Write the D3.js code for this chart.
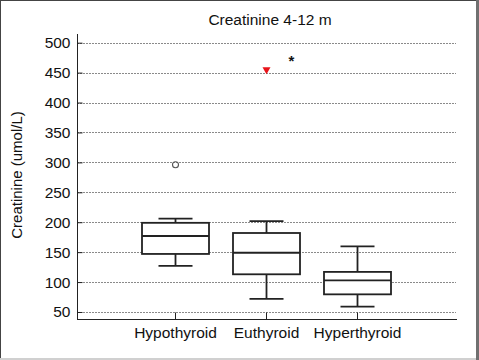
<!DOCTYPE html>
<html><head><meta charset="utf-8">
<script src="https://cdn.jsdelivr.net/npm/d3@7"></script>
<style>html,body{margin:0;padding:0;background:#fff;}svg{display:block;}</style>
</head><body>
<script>
const categories = ["Hypothyroid", "Euthyroid", "Hyperthyroid"];
const whiskerLow  = [127, 72, 59];
const q1          = [147, 113, 79.5];
const median      = [177, 149, 103];
const q3          = [199, 182, 117];
const whiskerHigh = [206, 202, 159.5];
const outliers = [
  {cat: "Hypothyroid", value: 296, type: "circle"},
  {cat: "Euthyroid", value: 453, type: "triangle"}
];
const extraMarks = [{catFrom: "Euthyroid", value: 473, label: "*"}];
const yTicks = [50, 100, 150, 200, 250, 300, 350, 400, 450, 500];
const title = "Creatinine 4-12 m";
const yTitle = "Creatinine (umol/L)";

(function(){
const W = 479, H = 360;
const svg = d3.select("body").append("svg").attr("width", W).attr("height", H);
const font = "Liberation Sans, Arial, sans-serif";

// frame
svg.append("rect").attr("x",0).attr("y",0).attr("width",W).attr("height",H).attr("fill","#fff");
svg.append("rect").attr("x",476).attr("y",0).attr("width",3).attr("height",H).attr("fill","#707070");
svg.append("rect").attr("x",0).attr("y",358).attr("width",476).attr("height",2).attr("fill","#d0d0d0");
svg.append("line").attr("x1",0.5).attr("x2",0.5).attr("y1",0).attr("y2",358).attr("stroke","#444");
svg.append("line").attr("x1",0).attr("x2",476).attr("y1",0.5).attr("y2",0.5).attr("stroke","#444");

const pl = 77, pr = 457, pt = 34, pb = 319;
const y = d3.scaleLinear().domain([38.3, 514.5]).range([pb, pt]);
const x = d3.scaleBand().domain(categories).range([130, 403]).padding(0);
const cx = c => x(c) + x.bandwidth()/2;
const boxW = 67, capW = 34;

// gridlines
svg.append("g").selectAll("line").data(yTicks).join("line")
  .attr("x1", pl).attr("x2", pr - 1)
  .attr("y1", d => Math.round(y(d)) + 0.5).attr("y2", d => Math.round(y(d)) + 0.5)
  .attr("stroke", "#8a8a8a").attr("stroke-width", 1).attr("stroke-dasharray", "2,1");

// y axis
const yAxis = d3.axisLeft(y).tickValues(yTicks).tickSizeInner(-5).tickSizeOuter(0).tickPadding(7);
const gy = svg.append("g").attr("transform", `translate(${pl + 0.5},0)`).call(yAxis);
gy.select(".domain").attr("stroke", "#222").attr("d", `M0,${pt}V${pb}`);
gy.selectAll(".tick line").attr("stroke", "#222");
gy.selectAll(".tick text").attr("font-family", font).attr("font-size", "15.5px").attr("fill", "#111");

// x axis
const xAxis = d3.axisBottom(x).tickSizeInner(-7).tickSizeOuter(0).tickPadding(7);
const gx = svg.append("g").attr("transform", `translate(0,${pb + 0.5})`).call(xAxis);
gx.select(".domain").attr("stroke", "#222").attr("d", `M${pl},0H${pr}`);
gx.selectAll(".tick line").attr("stroke", "#222");
gx.selectAll(".tick text").attr("font-family", font).attr("font-size", "15.5px").attr("fill", "#111");

// boxes
const data = categories.map((c, i) => ({c, lo: whiskerLow[i], q1: q1[i], med: median[i], q3: q3[i], hi: whiskerHigh[i]}));
const g = svg.append("g").attr("stroke", "#222").attr("stroke-width", 1.8).attr("fill", "none");
const bx = g.selectAll("g").data(data).join("g");
bx.append("line").attr("x1", d => cx(d.c)).attr("x2", d => cx(d.c)).attr("y1", d => y(d.lo)).attr("y2", d => y(d.q1));
bx.append("line").attr("x1", d => cx(d.c)).attr("x2", d => cx(d.c)).attr("y1", d => y(d.q3)).attr("y2", d => y(d.hi));
bx.append("line").attr("x1", d => cx(d.c) - capW/2).attr("x2", d => cx(d.c) + capW/2).attr("y1", d => y(d.lo)).attr("y2", d => y(d.lo));
bx.append("line").attr("x1", d => cx(d.c) - capW/2).attr("x2", d => cx(d.c) + capW/2).attr("y1", d => y(d.hi)).attr("y2", d => y(d.hi));
bx.append("rect").attr("x", d => cx(d.c) - boxW/2).attr("width", boxW)
  .attr("y", d => y(d.q3)).attr("height", d => y(d.q1) - y(d.q3)).attr("fill", "#fff");
bx.append("line").attr("x1", d => cx(d.c) - boxW/2).attr("x2", d => cx(d.c) + boxW/2).attr("y1", d => y(d.med)).attr("y2", d => y(d.med));

// outliers
outliers.forEach(o => {
  if (o.type === "circle") {
    svg.append("circle").attr("cx", cx(o.cat)).attr("cy", y(o.value)).attr("r", 3)
      .attr("fill", "none").attr("stroke", "#555").attr("stroke-width", 1.1);
  } else {
    const px = cx(o.cat), py = y(o.value);
    svg.append("path").attr("d", `M${px-4},${py-3.5}L${px+4},${py-3.5}L${px},${py+3.5}Z`).attr("fill", "#e8141a");
  }
});
extraMarks.forEach(m => {
  svg.append("text").attr("x", cx(m.catFrom) + 25).attr("y", y(m.value) + 7)
    .attr("text-anchor", "middle").attr("font-family", font).attr("font-size", "15px").attr("font-weight", "bold").attr("fill", "#111").text(m.label);
});

// titles
svg.append("text").attr("x", 270).attr("y", 25).attr("text-anchor", "middle")
  .attr("font-family", font).attr("font-size", "15.5px").attr("fill", "#111").text(title);
svg.append("text").attr("transform", `translate(22,${175}) rotate(-90)`).attr("text-anchor", "middle")
  .attr("font-family", font).attr("font-size", "15px").attr("fill", "#111").text(yTitle);
})();
</script>
</body></html>
